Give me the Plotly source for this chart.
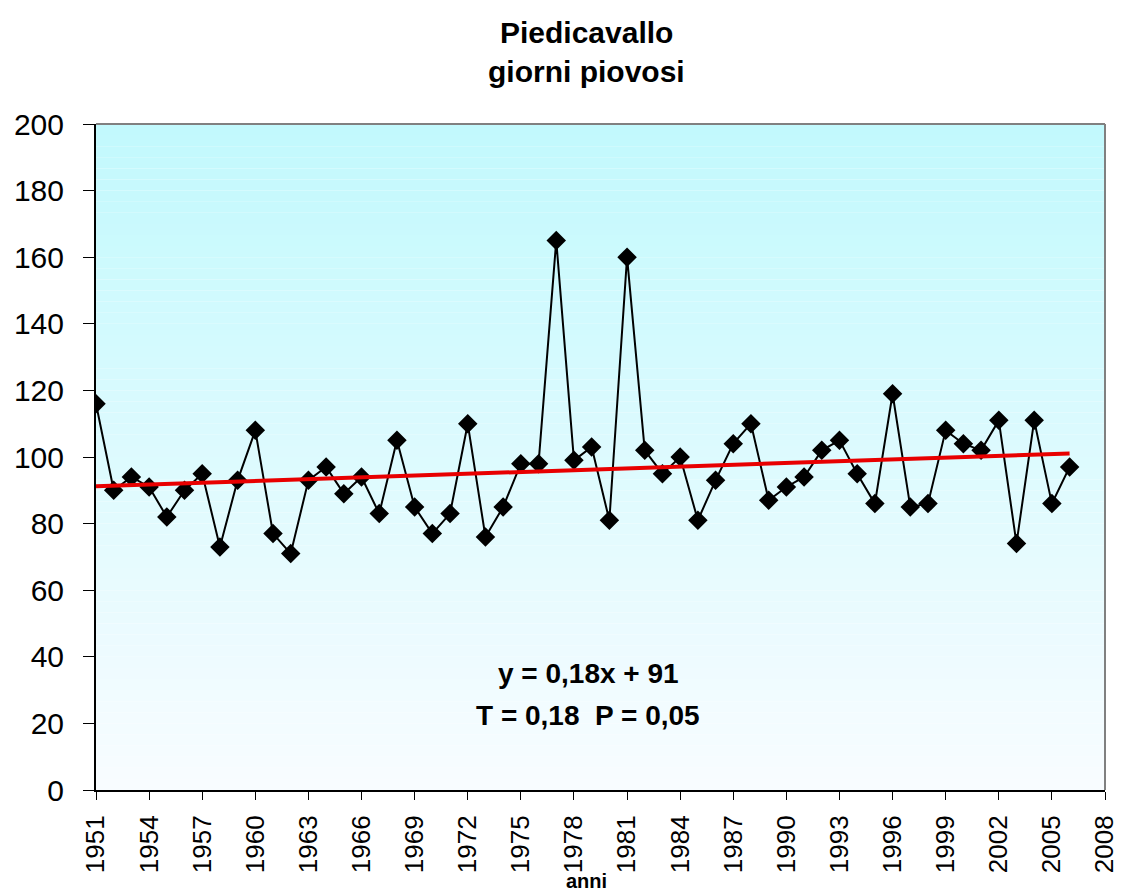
import plotly.graph_objects as go

years = list(range(1951, 2007))
giorni = [116, 90, 94, 91, 82, 90, 95, 73, 93, 108,
          77, 71, 93, 97, 89, 94, 83, 105, 85, 77,
          83, 110, 76, 85, 98, 98, 165, 99, 103, 81,
          160, 102, 95, 100, 81, 93, 104, 110, 87, 91,
          94, 102, 105, 95, 86, 119, 85, 86, 108, 104,
          102, 111, 74, 111, 86, 97]
trend_slope = 0.18
trend_intercept = 91
trend_vals = [trend_slope * (i + 1) + trend_intercept for i in range(len(years))]

title_lines = ["Piedicavallo", "giorni piovosi"]
eq_lines = ["y = 0,18x + 91", "T = 0,18  P = 0,05"]
x_title = "anni"
y_ticks = list(range(0, 201, 20))

FONT = "Liberation Sans, Arial, sans-serif"
PH = 666      # plot height in px
BOTTOM = 790  # screen y of plot bottom


def py(screen_y):
    return (BOTTOM - screen_y) / PH


fig = go.Figure()

# gradient background
top = (194, 249, 253)
bot = (248, 252, 255)
n = 60
for i in range(n):
    t = i / (n - 1)
    c = tuple(int(round(top[k] + (bot[k] - top[k]) * t)) for k in range(3))
    fig.add_shape(type="rect", xref="x domain", yref="y domain",
                  x0=0, x1=1, y0=1 - (i + 1) / n, y1=1 - i / n,
                  fillcolor=f"rgb{c}", line=dict(width=0), layer="below")

fig.add_trace(go.Scatter(x=years, y=giorni, mode="lines+markers",
                         line=dict(color="black", width=2),
                         marker=dict(symbol="diamond", size=15, color="black"),
                         showlegend=False))
fig.add_trace(go.Scatter(x=years, y=trend_vals, mode="lines",
                         line=dict(color="#e80000", width=4),
                         showlegend=False))

# top/right gray border
fig.add_shape(type="line", xref="x domain", yref="y domain", x0=0, x1=1, y0=1, y1=1,
              line=dict(color="#808080", width=2))
fig.add_shape(type="line", xref="x domain", yref="y domain", x0=1, x1=1, y0=0, y1=1,
              line=dict(color="#808080", width=2))

for txt, yc in zip(title_lines, [32, 72]):
    fig.add_annotation(text="<b>" + txt + "</b>",
                       xref="paper", yref="paper", x=(586 - 96) / 1009, y=py(yc),
                       xanchor="center", yanchor="middle", showarrow=False,
                       font=dict(family=FONT, size=30, color="black"))
for txt, yc in zip(eq_lines, [673, 715]):
    fig.add_annotation(text="<b>" + txt + "</b>",
                       xref="paper", yref="paper", x=(588 - 96) / 1009, y=py(yc),
                       xanchor="center", yanchor="middle", showarrow=False,
                       font=dict(family=FONT, size=28, color="black"))
fig.add_annotation(text="<b>" + x_title + "</b>",
                   xref="paper", yref="paper", x=(586 - 96) / 1009, y=py(894),
                   xanchor="center", yanchor="bottom", showarrow=False,
                   font=dict(family=FONT, size=20, color="black"))

# page body has an 8px margin: shift figure so plot area lands at the reference pixels
fig.update_layout(
    width=1116, height=887,
    margin=dict(l=88, r=19, t=116, b=105),
    paper_bgcolor="white", plot_bgcolor="rgba(0,0,0,0)",
    font=dict(family=FONT, color="black"),
)
fig.update_xaxes(range=[1951, 2008], tick0=1951, dtick=3, tickangle=-90,
                 showgrid=False, zeroline=False, showline=True, linecolor="black",
                 linewidth=2, ticks="outside", ticklen=8, tickcolor="black",
                 tickfont=dict(family=FONT, size=26), ticklabelstandoff=5,
                 automargin=False)
fig.update_yaxes(range=[0, 200], tickvals=y_ticks, showgrid=False, zeroline=False,
                 showline=True, linecolor="black", linewidth=2, ticks="outside",
                 ticklen=11, tickcolor="black", tickfont=dict(family=FONT, size=30),
                 ticklabelstandoff=13, automargin=False)

fig.write_html("out.html")
